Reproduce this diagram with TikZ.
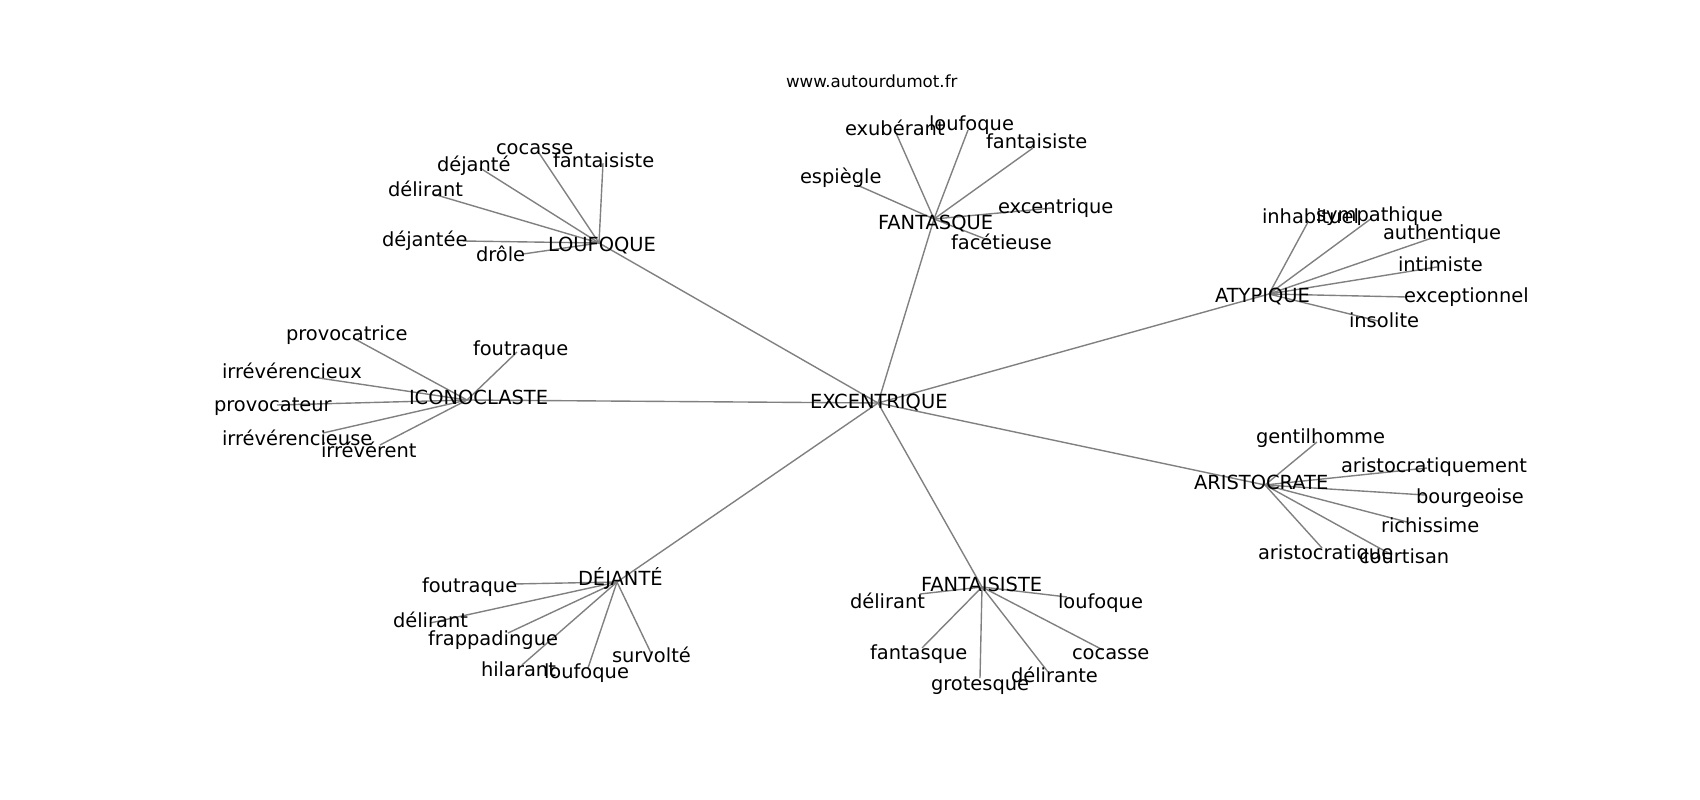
\documentclass[tikz,border=0pt]{standalone}
\usepackage{fontspec}
\setmainfont{DejaVu Sans}
\tikzset{
  lbl/.style={anchor=base west, inner sep=0pt, outer sep=0pt, font=\fontsize{19.44}{22}\selectfont},
  ttl/.style={anchor=base west, inner sep=0pt, outer sep=0pt, font=\fontsize{16.67}{19}\selectfont},
  edge/.style={draw=gray, line width=1.39pt}
}
\begin{document}
\begin{tikzpicture}[x=1pt,y=-1pt]
\fill[white] (0,0) rectangle (1700,800);
\useasboundingbox (0,0) rectangle (1700,800);
% hubs
\coordinate (c0) at (878,403);
\coordinate (hL) at (599,243);
\coordinate (hF) at (934,219);
\coordinate (hA) at (1269,294);
\coordinate (hR) at (1265,485);
\coordinate (hI) at (467,400);
\coordinate (hD) at (617,582);
\coordinate (hS) at (982,587);
% leaf endpoints
\coordinate (L1) at (539,153); \coordinate (L2) at (603,163); \coordinate (L3) at (480,168);
\coordinate (L4) at (433,194); \coordinate (L5) at (463,241); \coordinate (L6) at (523,254);
\coordinate (F1) at (896,133); \coordinate (F2) at (968,130); \coordinate (F3) at (1033,148);
\coordinate (F4) at (857,185); \coordinate (F5) at (1053,208); \coordinate (F6) at (988,240);
\coordinate (A1) at (1308,222); \coordinate (A2) at (1372,218); \coordinate (A3) at (1432,238);
\coordinate (A4) at (1437,267); \coordinate (A5) at (1407,297); \coordinate (A6) at (1378,321);
\coordinate (R1) at (1317,442); \coordinate (R2) at (1427,468); \coordinate (R3) at (1425,495);
\coordinate (R4) at (1407,522); \coordinate (R5) at (1322,548); \coordinate (R6) at (1392,555);
\coordinate (I1) at (353,338); \coordinate (I2) at (517,352); \coordinate (I3) at (312,377);
\coordinate (I4) at (277,405); \coordinate (I5) at (323,433); \coordinate (I6) at (380,445);
\coordinate (D1) at (513,584); \coordinate (D2) at (430,623); \coordinate (D3) at (508,633);
\coordinate (D4) at (522,665); \coordinate (D5) at (588,668); \coordinate (D6) at (651,653);
\coordinate (S1) at (920,594); \coordinate (S2) at (1067,597); \coordinate (S3) at (922,648);
\coordinate (S4) at (980,678); \coordinate (S5) at (1048,672); \coordinate (S6) at (1103,650);
% edges
\foreach \h in {hL,hF,hA,hR,hI,hD,hS} \draw[edge] (c0) -- (\h);
\foreach \i in {1,...,6} {
  \draw[edge] (hL) -- (L\i);
  \draw[edge] (hF) -- (F\i);
  \draw[edge] (hA) -- (A\i);
  \draw[edge] (hR) -- (R\i);
  \draw[edge] (hI) -- (I\i);
  \draw[edge] (hD) -- (D\i);
  \draw[edge] (hS) -- (S\i);
}
% labels
\node[ttl] (title) at (786,88) {www.autourdumot.fr};
\node[lbl] (nc0) at (810,408) {EXCENTRIQUE};
\node[lbl] (nhL) at (548,251) {LOUFOQUE};
\node[lbl] (nhF) at (878,229) {FANTASQUE};
\node[lbl] (nhA) at (1215,302) {ATYPIQUE};
\node[lbl] (nhR) at (1194,489) {ARISTOCRATE};
\node[lbl] (nhI) at (409,404) {ICONOCLASTE};
\node[lbl] (nhD) at (578,585) {DÉJANTÉ};
\node[lbl] (nhS) at (921,591) {FANTAISISTE};
\node[lbl] (nL1) at (496,154) {cocasse};
\node[lbl] (nL2) at (553,167) {fantaisiste};
\node[lbl] (nL3) at (437,171) {déjanté};
\node[lbl] (nL4) at (388,196) {délirant};
\node[lbl] (nL5) at (382,246) {déjantée};
\node[lbl] (nL6) at (476,261) {drôle};
\node[lbl] (nF1) at (845,135) {exubérant};
\node[lbl] (nF2) at (929,130) {loufoque};
\node[lbl] (nF3) at (986,148) {fantaisiste};
\node[lbl] (nF4) at (800,183) {espiègle};
\node[lbl] (nF5) at (998,213) {excentrique};
\node[lbl] (nF6) at (951,249) {facétieuse};
\node[lbl] (nA1) at (1262,223) {inhabituel};
\node[lbl] (nA2) at (1316,221) {sympathique};
\node[lbl] (nA3) at (1383,239) {authentique};
\node[lbl] (nA4) at (1398,271) {intimiste};
\node[lbl] (nA5) at (1404,302) {exceptionnel};
\node[lbl] (nA6) at (1349,327) {insolite};
\node[lbl] (nR1) at (1256,443) {gentilhomme};
\node[lbl] (nR2) at (1341,472) {aristocratiquement};
\node[lbl] (nR3) at (1416,503) {bourgeoise};
\node[lbl] (nR4) at (1381,532) {richissime};
\node[lbl] (nR5) at (1258,559) {aristocratique};
\node[lbl] (nR6) at (1359,563) {courtisan};
\node[lbl] (nI1) at (286,340) {provocatrice};
\node[lbl] (nI2) at (473,355) {foutraque};
\node[lbl] (nI3) at (222,378) {irrévérencieux};
\node[lbl] (nI4) at (214,411) {provocateur};
\node[lbl] (nI5) at (222,445) {irrévérencieuse};
\node[lbl] (nI6) at (321,457) {irrévérent};
\node[lbl] (nD1) at (422,592) {foutraque};
\node[lbl] (nD2) at (393,627) {délirant};
\node[lbl] (nD3) at (428,645) {frappadingue};
\node[lbl] (nD4) at (481,676) {hilarant};
\node[lbl] (nD5) at (544,678) {loufoque};
\node[lbl] (nD6) at (612,662) {survolté};
\node[lbl] (nS1) at (850,608) {délirant};
\node[lbl] (nS2) at (1058,608) {loufoque};
\node[lbl] (nS3) at (870,659) {fantasque};
\node[lbl] (nS4) at (931,690) {grotesque};
\node[lbl] (nS5) at (1011,682) {délirante};
\node[lbl] (nS6) at (1072,659) {cocasse};
\end{tikzpicture}
\end{document}
